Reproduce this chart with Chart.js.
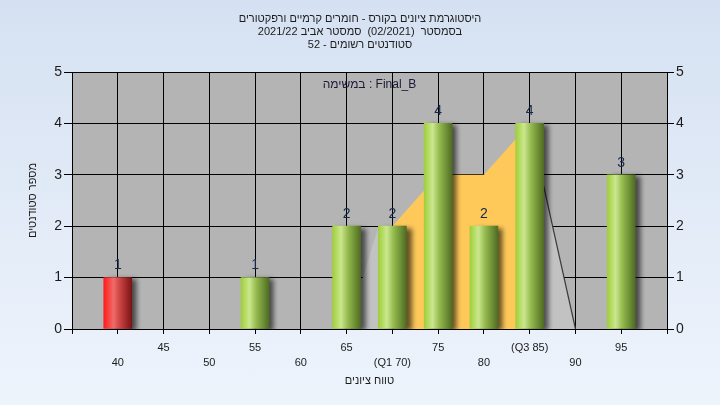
<!DOCTYPE html>
<html>
<head>
<meta charset="utf-8">
<script src="https://cdn.jsdelivr.net/npm/chart.js@4"></script>
<style>
  html, body { margin: 0; padding: 0; }
  body { width: 720px; height: 405px; background: linear-gradient(#d5e1f2, #eef4fc); }
  #wrap { width: 720px; height: 405px; position: relative; }
</style>
</head>
<body>
<div id="wrap"><canvas id="histChart"></canvas></div>
<script>
// Data
const gradeBins = [40, 45, 50, 55, 60, 65, 70, 75, 80, 85, 90, 95];
const studentCounts = [1, 0, 0, 1, 0, 2, 2, 4, 2, 4, 0, 3];
const iqrBins = [70, 75, 80, 85];
const iqrValues = [2, 3, 3, 4];
const tailBins = [65, 68.5, 70, 75, 85, 90];
const tailValues = [0, 2, 2, null, 4, 0];
const quartileLabels = { 70: '(Q1 70)', 85: '(Q3 85)' };

const titleLines = [
    'היסטוגרמת ציונים בקורס - חומרים קרמיים ורפקטורים',
    'בסמסטר  (02/2021)  סמסטר אביב 2021/22',
    'סטודנטים רשומים - 52'
];
const taskLabel = 'במשימה : Final_B';
const xTitle = 'טווח ציונים';
const yTitle = 'מספר סטודנטים';

const FONT = "'Liberation Sans', 'DejaVu Sans', sans-serif";

function barGradient(c) {
    const chart = c.chart;
    const xs = chart.scales.x;
    const failed = c.raw && c.raw.x < 55;
    const flat = failed ? '#e03030' : '#8fbf3f';
    if (c.type !== 'data') return flat;
    if (!c.raw.y) return 'rgba(0,0,0,0)';
    const cx = xs ? xs.getPixelForValue(c.raw.x) : NaN;
    if (!isFinite(cx)) return flat;
    const g = chart.ctx.createLinearGradient(cx - 14, 0, cx + 14, 0);
    if (failed) {
        g.addColorStop(0, '#ff1c1c');
        g.addColorStop(0.35, '#f06a6a');
        g.addColorStop(0.6, '#c84040');
        g.addColorStop(1, '#7a1414');
    } else {
        g.addColorStop(0, '#9fcf3a');
        g.addColorStop(0.3, '#cbe78e');
        g.addColorStop(0.55, '#93b94d');
        g.addColorStop(1, '#4f6c22');
    }
    return g;
}

// grey plot background, bar shadow, value labels, task caption
const barDecor = {
    id: 'barDecor',
    beforeDraw(chart) {
        const { ctx, chartArea: a } = chart;
        ctx.save();
        ctx.fillStyle = '#b4b4b4';
        ctx.fillRect(a.left, a.top, a.right - a.left, a.bottom - a.top);
        ctx.restore();
    },
    beforeDatasetDraw(chart, args) {
        if (chart.data.datasets[args.index].type !== 'bar') return;
        const ctx = chart.ctx;
        ctx.save();
        ctx.shadowColor = 'rgba(0,0,0,0.6)';
        ctx.shadowOffsetX = 5;
        ctx.shadowOffsetY = 2;
        ctx.shadowBlur = 5;
    },
    afterDatasetDraw(chart, args) {
        if (chart.data.datasets[args.index].type !== 'bar') return;
        chart.ctx.restore();
    },
    afterDatasetsDraw(chart) {
        const ctx = chart.ctx;
        const meta = chart.getDatasetMeta(0);
        const area = chart.chartArea;
        ctx.save();
        ctx.font = '14px ' + FONT;
        ctx.fillStyle = '#14284a';
        ctx.textAlign = 'center';
        ctx.textBaseline = 'middle';
        meta.data.forEach((bar, i) => {
            if (!studentCounts[i]) return;
            ctx.fillText(String(studentCounts[i]), bar.x, bar.y - 12);
        });
        ctx.font = '12px ' + FONT;
        ctx.fillStyle = '#1a1a3a';
        ctx.fillText(taskLabel, (area.left + area.right) / 2, area.top + 13);
        ctx.restore();
    }
};

new Chart(document.getElementById('histChart'), {
    type: 'bar',
    data: {
        datasets: [{
            type: 'bar',
            data: gradeBins.map((g, i) => ({ x: g, y: studentCounts[i] })),
            backgroundColor: barGradient,
            barThickness: 28,
            order: 1
        }, {
            type: 'line',
            data: iqrBins.map((g, i) => ({ x: g, y: iqrValues[i] })),
            backgroundColor: '#ffc95a',
            borderWidth: 0,
            pointRadius: 0,
            fill: 'origin',
            order: 2
        }, {
            type: 'line',
            data: tailBins.map((g, i) => ({ x: g, y: tailValues[i] })),
            backgroundColor: '#c2c2c2',
            borderWidth: 1.2,
            pointRadius: 0,
            spanGaps: false,
            fill: 'origin',
            segment: {
                borderColor: c => c.p0.parsed.x === 85 ? '#3a3a3a' : 'rgba(0,0,0,0)'
            },
            order: 3
        }]
    },
    options: {
        responsive: true,
        maintainAspectRatio: false,
        animation: false,
        layout: { padding: 0 },
        plugins: {
            legend: { display: false },
            tooltip: { enabled: false },
            title: {
                display: true,
                text: titleLines,
                color: '#1c1c1c',
                font: { family: FONT, size: 11, weight: 'normal', lineHeight: '13px' },
                padding: { top: 12, bottom: 21 }
            }
        },
        scales: {
            x: {
                type: 'linear',
                min: 35,
                max: 100,
                offset: false,
                afterFit(s) { s.height = 76; },
                ticks: {
                    stepSize: 5,
                    autoSkip: false,
                    maxRotation: 0,
                    padding: 6,
                    color: '#1c1c1c',
                    font: { family: FONT, size: 11, lineHeight: '15px' },
                    callback(v) {
                        if (v < 40 || v > 95) return '';
                        const txt = quartileLabels[v] || String(v);
                        return ((v - 40) / 5) % 2 === 0 ? ['', txt] : [txt];
                    }
                },
                grid: { color: '#000', lineWidth: 1, tickLength: 5, offset: false },
                border: { color: '#000', width: 1 },
                title: {
                    display: true,
                    text: xTitle,
                    color: '#1c1c1c',
                    font: { family: FONT, size: 11 },
                    padding: { top: 0, bottom: 17.4 }
                }
            },
            y: {
                position: 'left',
                min: 0,
                max: 5,
                afterFit(s) { s.width = 72; },
                ticks: {
                    stepSize: 1,
                    padding: 2,
                    color: '#1c1c1c',
                    font: { family: FONT, size: 14 }
                },
                grid: { color: '#000', lineWidth: 1, tickLength: 8 },
                border: { color: '#000', width: 1 },
                title: {
                    display: true,
                    text: yTitle,
                    color: '#1c1c1c',
                    font: { family: FONT, size: 11 },
                    padding: { top: 26.4, bottom: 0 }
                }
            },
            y2: {
                position: 'right',
                min: 0,
                max: 5,
                afterFit(s) { s.width = 53; },
                ticks: {
                    stepSize: 1,
                    padding: 2,
                    color: '#1c1c1c',
                    font: { family: FONT, size: 14 }
                },
                grid: { drawOnChartArea: false, color: '#000', tickLength: 7 },
                border: { color: '#000', width: 1 }
            }
        }
    },
    plugins: [barDecor]
});
</script>
</body>
</html>
